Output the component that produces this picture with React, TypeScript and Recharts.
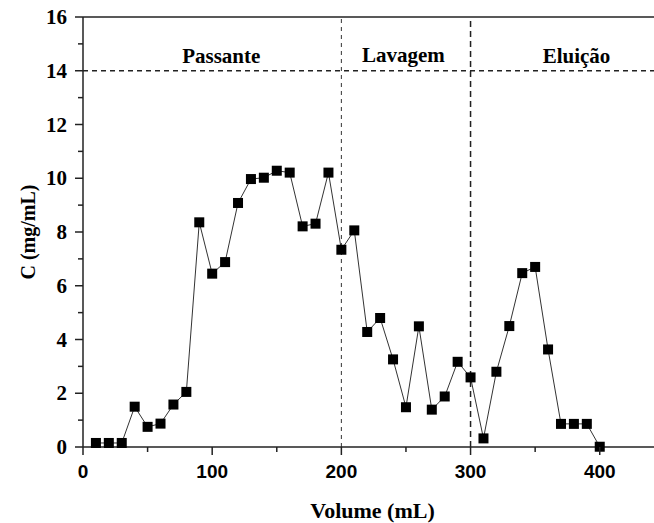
import React from 'react';
import { LineChart, Line, XAxis, YAxis, ReferenceLine, ReferenceDot, Label } from 'recharts';

const volume = [10, 20, 30, 40, 50, 60, 70, 80, 90, 100, 110, 120, 130, 140, 150, 160, 170, 180, 190, 200, 210, 220, 230, 240, 250, 260, 270, 280, 290, 300, 310, 320, 330, 340, 350, 360, 370, 380, 390, 400];
const conc = [0.15, 0.15, 0.15, 1.5, 0.75, 0.87, 1.58, 2.05, 8.36, 6.45, 6.88, 9.08, 9.97, 10.02, 10.28, 10.21, 8.21, 8.31, 10.21, 7.34, 8.06, 4.28, 4.8, 3.26, 1.48, 4.49, 1.39, 1.88, 3.17, 2.59, 0.32, 2.8, 4.5, 6.47, 6.7, 3.63, 0.86, 0.86, 0.86, 0.01];
const xTicks = [0, 50, 100, 150, 200, 250, 300, 350, 400];
const yTicks = [0, 1, 2, 3, 4, 5, 6, 7, 8, 9, 10, 11, 12, 13, 14, 15, 16];
const phases = [
  { name: 'Passante', x: 107, y: 14.55 },
  { name: 'Lavagem', x: 248, y: 14.6 },
  { name: 'Eluição', x: 382, y: 14.55 },
];

const data = volume.map((v, i) => ({ volume: v, conc: conc[i] }));

const W = 654;
const H = 523;
const Y_W = 83;
const X_H = 76;
const TOP = 17;
const PLOT_BOTTOM = H - X_H;
const SERIF = '"Liberation Serif", "Times New Roman", serif';
const SANS = '"Liberation Sans", Arial, sans-serif';

const YTick = (props: any) => {
  const { y, payload } = props;
  const major = payload.value % 2 === 0;
  return (
    <g>
      <line x1={Y_W - (major ? 8 : 5)} x2={Y_W} y1={y} y2={y} stroke="#222" strokeWidth={1.5} />
      {major && (
        <text x={Y_W - 16} y={y} textAnchor="end" dominantBaseline="central" fontFamily={SERIF} fontWeight="bold" fontSize={21} fill="#000">
          {payload.value}
        </text>
      )}
    </g>
  );
};

const XTick = (props: any) => {
  const { x, payload } = props;
  const major = payload.value % 100 === 0;
  return (
    <g>
      <line x1={x} x2={x} y1={PLOT_BOTTOM} y2={PLOT_BOTTOM + (major ? 8 : 5)} stroke="#222" strokeWidth={1.5} />
      {major && (
        <text x={x} y={PLOT_BOTTOM + 24} textAnchor="middle" dominantBaseline="central" fontFamily={SANS} fontWeight="bold" fontSize={19} fill="#000">
          {payload.value}
        </text>
      )}
    </g>
  );
};

const SquareDot = (props: any) => {
  const { cx, cy } = props;
  if (cx == null || cy == null) return null;
  return <rect x={cx - 5} y={cy - 5} width={10} height={10} fill="#000" />;
};

export default function App() {
  return (
    <div style={{ position: 'absolute', left: 0, top: 0, background: '#fff' }}>
      <LineChart width={W} height={H} data={data} margin={{ top: TOP, right: 0, bottom: 0, left: 0 }}>
        <XAxis
          type="number"
          dataKey="volume"
          domain={[0, 442]}
          ticks={xTicks}
          interval={0}
          height={X_H}
          axisLine={{ stroke: '#222', strokeWidth: 1.5 }}
          tickLine={false}
          tick={<XTick />}
        >
          <Label
            content={(p: any) => {
              const vb = p.viewBox;
              return (
                <text x={vb.x + vb.width / 2 + 4} y={PLOT_BOTTOM + 63} textAnchor="middle" dominantBaseline="central" fontFamily={SERIF} fontWeight="bold" fontSize={22} fill="#000">
                  Volume (mL)
                </text>
              );
            }}
          />
        </XAxis>
        <YAxis
          type="number"
          domain={[0, 16]}
          ticks={yTicks}
          interval={0}
          width={Y_W}
          axisLine={{ stroke: '#222', strokeWidth: 1.5 }}
          tickLine={false}
          tick={<YTick />}
        >
          <Label
            content={(p: any) => {
              const vb = p.viewBox;
              const cy = vb.y + vb.height / 2;
              return (
                <text x={28} y={cy} transform={`rotate(-90 28 ${cy})`} textAnchor="middle" dominantBaseline="central" fontFamily={SERIF} fontWeight="bold" fontSize={20} fill="#000">
                  C (mg/mL)
                </text>
              );
            }}
          />
        </YAxis>
        <ReferenceLine y={16} stroke="#222" strokeWidth={1.5} />
        <ReferenceLine y={14} stroke="#222" strokeWidth={1.3} strokeDasharray="5 4" />
        <ReferenceLine x={200} stroke="#333" strokeWidth={1} strokeDasharray="4 4" />
        <ReferenceLine x={300} stroke="#222" strokeWidth={1.5} strokeDasharray="6 4" />
        {phases.map((ph) => (
          <ReferenceDot
            key={ph.name}
            x={ph.x}
            y={ph.y}
            r={1}
            fill="none"
            stroke="none"
            label={{ value: ph.name, position: 'center', fill: '#000', fontSize: 21, fontWeight: 'bold', fontFamily: SERIF }}
          />
        ))}
        <Line
          type="linear"
          dataKey="conc"
          stroke="#333"
          strokeWidth={1}
          dot={<SquareDot />}
          activeDot={false}
          isAnimationActive={false}
        />
      </LineChart>
    </div>
  );
}
